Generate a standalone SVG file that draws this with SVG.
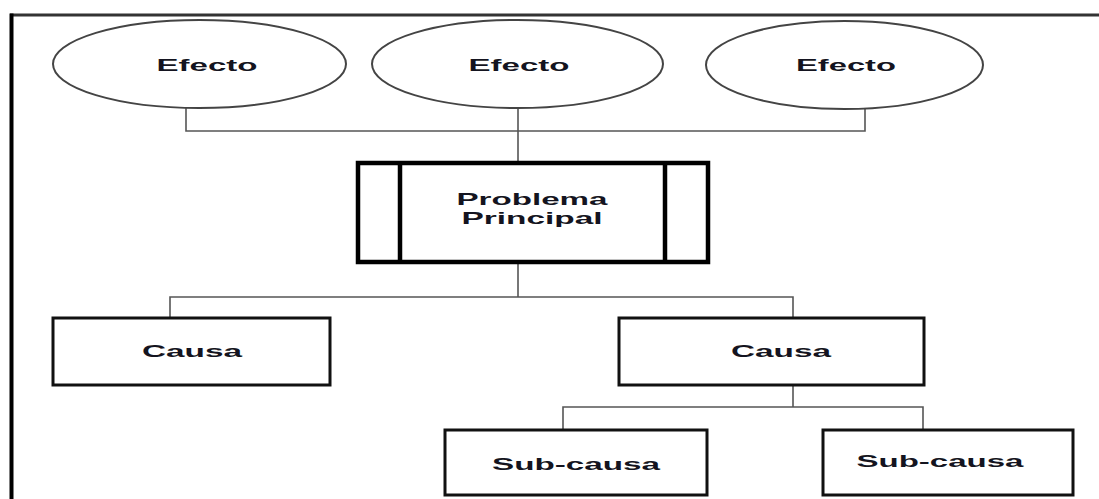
<svg xmlns="http://www.w3.org/2000/svg" width="1099" height="499" viewBox="0 0 1099 499">
  <style>
    .lbl { font-family: "Liberation Sans", Arial, sans-serif; font-weight: bold; font-size: 17px; fill: #141420; text-anchor: middle; }
    .eff { fill: #fff; stroke: #444; stroke-width: 2; }
    .box { fill: #fff; stroke: #111; stroke-width: 3; }
    .main { fill: #fff; stroke: #000; stroke-width: 4.5; }
    .wire { fill: none; stroke: #555; stroke-width: 1.6; }
  </style>
  <rect width="1099" height="499" fill="#fff"/>

  <!-- outer frame: top and left edges only -->
  <g id="frame">
    <line x1="10" y1="15" x2="1099" y2="15" stroke="#333" stroke-width="3"/>
    <line x1="11.5" y1="13.5" x2="11.5" y2="499" stroke="#000" stroke-width="4"/>
  </g>

  <!-- connectors -->
  <g id="connectors">
    <polyline class="wire" points="186,108 186,131 865,131 865,109"/>
    <line class="wire" x1="518" y1="108" x2="518" y2="163"/>
    <line class="wire" x1="518" y1="262" x2="518" y2="297"/>
    <polyline class="wire" points="170,318 170,297 793,297 793,318"/>
    <line class="wire" x1="793" y1="385" x2="793" y2="407"/>
    <polyline class="wire" points="563,430 563,407 923,407 923,430"/>
  </g>

  <g id="efecto-1">
    <ellipse class="eff" cx="199.5" cy="64" rx="146.5" ry="44"/>
    <text class="lbl" x="207" y="71" textLength="101" lengthAdjust="spacingAndGlyphs">Efecto</text>
  </g>
  <g id="efecto-2">
    <ellipse class="eff" cx="517.5" cy="64" rx="145.5" ry="44"/>
    <text class="lbl" x="519" y="71" textLength="101" lengthAdjust="spacingAndGlyphs">Efecto</text>
  </g>
  <g id="efecto-3">
    <ellipse class="eff" cx="844.5" cy="65" rx="138.5" ry="44"/>
    <text class="lbl" x="846" y="71" textLength="100" lengthAdjust="spacingAndGlyphs">Efecto</text>
  </g>

  <g id="problema-principal">
    <rect class="main" x="358" y="163" width="350" height="99"/>
    <line x1="400" y1="163" x2="400" y2="262" stroke="#000" stroke-width="4.5"/>
    <line x1="665" y1="163" x2="665" y2="262" stroke="#000" stroke-width="4.5"/>
    <text class="lbl" x="532" y="205" textLength="151" lengthAdjust="spacingAndGlyphs">Problema</text>
    <text class="lbl" x="532" y="224" textLength="141" lengthAdjust="spacingAndGlyphs">Principal</text>
  </g>

  <g id="causa-1">
    <rect class="box" x="53" y="318" width="277" height="67"/>
    <text class="lbl" x="192" y="357" textLength="100" lengthAdjust="spacingAndGlyphs">Causa</text>
  </g>
  <g id="causa-2">
    <rect class="box" x="619" y="318" width="305" height="67"/>
    <text class="lbl" x="781" y="357" textLength="100" lengthAdjust="spacingAndGlyphs">Causa</text>
  </g>

  <g id="sub-causa-1">
    <rect class="box" x="445" y="430" width="262" height="65"/>
    <text class="lbl" x="576" y="470" textLength="168" lengthAdjust="spacingAndGlyphs">Sub-causa</text>
  </g>
  <g id="sub-causa-2">
    <rect class="box" x="823" y="430" width="250" height="65"/>
    <text class="lbl" x="940" y="467" textLength="167" lengthAdjust="spacingAndGlyphs">Sub-causa</text>
  </g>
</svg>
